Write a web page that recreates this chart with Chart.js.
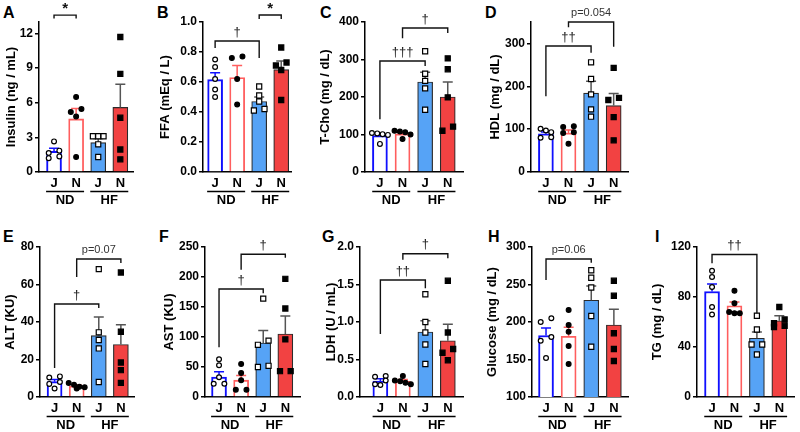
<!DOCTYPE html>
<html>
<head>
<meta charset="utf-8">
<script src="https://cdn.jsdelivr.net/npm/chart.js@4.4.0/dist/chart.umd.min.js"></script>
<style>
  body { margin: 0; background: #fff; width: 800px; height: 432px; position: relative; overflow: hidden; }
  canvas { position: absolute; }
  .letter { position: absolute; font: bold 16px "Liberation Sans", Arial, sans-serif; line-height: 16px; color: #000; }
</style>
</head>
<body>
<div class="letter" style="left:3px;top:5px">A</div>
<div class="letter" style="left:157px;top:5px">B</div>
<div class="letter" style="left:320px;top:5px">C</div>
<div class="letter" style="left:485px;top:5px">D</div>
<div class="letter" style="left:3px;top:229px">E</div>
<div class="letter" style="left:159px;top:229px">F</div>
<div class="letter" style="left:322px;top:229px">G</div>
<div class="letter" style="left:488px;top:229px">H</div>
<div class="letter" style="left:655px;top:229px">I</div>
<script>
const groups = ['J', 'N', 'J', 'N'];
const diets = ['ND', 'HF'];

// A insulin
const insulinTicks = [0, 3, 6, 9, 12];
const insulinMean = [1.8, 4.6, 2.55, 5.6];
const insulinSem = [0.25, 0.9, 0.35, 2.0];
const insulinPts = [[2.65, 1.85, 1.65, 1.2, 1.35], [6.5, 5.2, 5.45, 4.8, 1.3], [3.1, 3.1, 3.1, 2.4, 1.3], [11.7, 8.5, 4.7, 1.95, 1.1]];
const insulinSig = [[0, 1, 13.6, 13.3, 13.3, '*']];

// B FFA
const ffaTicks = [0, 0.2, 0.4, 0.6, 0.8, 1.0];
const ffaMean = [0.616, 0.63, 0.47, 0.683];
const ffaSem = [0.045, 0.08, 0.03, 0.057];
const ffaPts = [[0.75, 0.70, 0.62, 0.55, 0.50], [0.76, 0.77, 0.62, 0.45], [0.57, 0.51, 0.47, 0.41, 0.42], [0.83, 0.71, 0.73, 0.68, 0.48]];
const ffaSig = [[0, 2, 0.873, 0.827, 0.76, '†'], [2, 3, 1.047, 1.02, 1.02, '*']];

// C T-Cho
const tchoTicks = [0, 100, 200, 300, 400];
const tchoMean = [97, 101.5, 240, 200];
const tchoSem = [5, 4, 26, 40];
const tchoPts = [[103, 101, 99, 104, 75], [110, 108, 106, 100, 88], [322, 262, 243, 223, 166], [303, 274, 199, 121, 110]];
const tchoSig = [[0, 2, 296, 141, 283, '†††'], [1, 3, 384, 357, 371, '†']];

// D HDL
const hdlTicks = [0, 100, 200, 300];
const hdlMean = [89, 91, 184, 155];
const hdlSem = [4.2, 7, 28, 28];
const hdlPts = [[93, 97, 101, 80, 81], [107, 105, 91, 93, 66], [256, 217, 181, 146, 129], [243, 168, 173, 128, 74]];
const hdlSig = [[0, 2, 294, 177, 278, '††'], [1, 3, 350, 338, 292, 'p=0.054']];

// E ALT
const altTicks = [0, 20, 40, 60, 80];
const altMean = [8.2, 5.8, 32.7, 28];
const altSem = [1.2, 0.6, 10, 10.6];
const altPts = [[10.4, 11, 8, 7, 4.5], [7.5, 6.5, 5.5, 5.2, 4.5], [68.2, 34.5, 30.4, 25.9, 8.0], [66.4, 34.8, 18.4, 14.3, 7.5]];
const altSig = [[0, 2, 49.6, 15.5, 47.5, '†'], [1, 3, 73.6, 64, 71.5, 'p=0.07']];

// F AST
const astTicks = [0, 50, 100, 150, 200, 250];
const astMean = [33, 28, 90, 105];
const astSem = [9, 8, 20.7, 30];
const astPts = [[63, 53, 33, 22, 22], [55, 40, 28, 12, 12], [164, 94, 87, 50, 52], [197, 147.5, 96, 43, 43]];
const astSig = [[0, 2, 180, 83, 173, '†'], [1, 3, 238, 212, 232, '†']];

// G LDH
const ldhTicks = [0, 0.5, 1.0, 1.5, 2.0];
const ldhMean = [0.213, 0.21, 0.867, 0.75];
const ldhSem = [0.03, 0.025, 0.15, 0.22];
const ldhPts = [[0.28, 0.27, 0.22, 0.17, 0.16], [0.28, 0.22, 0.21, 0.19, 0.17], [1.37, 1.0, 0.86, 0.70, 0.44], [1.55, 0.86, 0.64, 0.59, 0.49]];
const ldhSig = [[0, 2, 1.56, 0.84, 1.45, '††'], [1, 3, 1.91, 1.83, 1.85, '†']];

// H glucose
const glucoseTicks = [100, 150, 200, 250, 300];
const glucoseMean = [182, 181, 229, 196];
const glucoseSem = [10, 12, 19, 21];
const glucosePts = [[205, 200, 180, 175, 152], [216, 196, 187, 168, 144], [269, 259, 246, 208, 167], [255, 235, 185, 164, 148]];
const glucoseSig = [[0, 2, 284, 256, 279, 'p=0.06']];

// I TG
const tgTicks = [0, 40, 80, 120];
const tgMean = [84.4, 73, 47, 61];
const tgSem = [6, 3, 5, 4];
const tgPts = [[101, 96, 88, 72, 66], [85, 75, 68, 67, 67], [65, 54, 42, 42, 34], [72, 62, 59, 57, 56]];
const tgSig = [[0, 2, 114, 107, 67, '††']];

Chart.defaults.font.family = '"Liberation Sans", Arial, sans-serif';
Chart.defaults.color = '#000';

const barFill = ['#ffffff', '#ffffff', '#56a3f6', '#f24242'];
const barLine = ['#1010ff', '#ff5e5e', '#2b2b2b', '#2b2b2b'];
const barLineW = [2, 1.8, 1.2, 1.2];
const errColor = ['#1010ff', '#ff5e5e', '#555555', '#555555'];
const ptStyle = ['circle', 'circle', 'rect', 'rect'];
const ptFill = ['#ffffff', '#000000', '#ffffff', '#000000'];
const ptRadius = [2.4, 2.4, 3.6, 3.6];

// spread points that sit at nearly the same level side by side
function swarm(vals, thr) {
  const idx = vals.map((v, i) => i).sort((a, b) => vals[b] - vals[a]);
  const out = [];
  let i = 0;
  while (i < idx.length) {
    let j = i + 1;
    while (j < idx.length && vals[idx[i]] - vals[idx[j]] < thr) j++;
    const k = j - i;
    for (let n = i; n < j; n++) {
      out[idx[n]] = k === 2 ? (n === i ? 1 : -1) : (n - i) - (k - 1) / 2;
    }
    i = j;
  }
  return out;
}

function makePanel(geo, d) {
  const rowTop = geo.row ? 216 : 0;
  const plotTop = geo.row ? 247 : 22;
  const plotBottom = geo.row ? 397 : 172;
  const canvas = document.createElement('canvas');
  canvas.width = geo.right - geo.left + 2;
  canvas.height = 216;
  canvas.style.left = geo.left + 'px';
  canvas.style.top = rowTop + 'px';
  document.body.appendChild(canvas);

  const pxX = (geo.right - geo.axis) / (geo.xMax - geo.xMin);
  const pxY = (plotBottom - plotTop) / (d.max - d.min);
  const pts = [];
  d.pts.forEach((vals, gi) => {
    const offs = swarm(vals, 4.5 / pxY);
    vals.forEach((v, k) => pts.push({ x: gi + offs[k] * 5.5 / pxX, y: v, g: gi }));
  });

  const deco = {
    id: 'deco',
    afterDatasetDraw(chart, args) {
      if (args.index !== 1) return;
      const ctx = chart.ctx, xs = chart.scales.x, ys = chart.scales.y;
      ctx.save();
      ctx.lineWidth = 1.5;
      d.mean.forEach((m, i) => {
        const px = xs.getPixelForValue(i);
        const top = ys.getPixelForValue(m + d.sem[i]);
        ctx.strokeStyle = errColor[i];
        ctx.beginPath();
        ctx.moveTo(px, ys.getPixelForValue(m));
        ctx.lineTo(px, top);
        ctx.moveTo(px - 5, top);
        ctx.lineTo(px + 5, top);
        ctx.stroke();
      });
      ctx.restore();
    },
    afterDraw(chart) {
      const ctx = chart.ctx, xs = chart.scales.x, ys = chart.scales.y;
      const bottom = chart.chartArea.bottom;
      ctx.save();
      // diet groups under the J / N labels
      ctx.strokeStyle = '#000';
      ctx.lineWidth = 1.3;
      ctx.fillStyle = '#000';
      ctx.font = 'bold 13px "Liberation Sans", Arial, sans-serif';
      ctx.textAlign = 'center';
      ctx.textBaseline = 'middle';
      diets.forEach((name, k) => {
        const cx = (xs.getPixelForValue(2 * k) + xs.getPixelForValue(2 * k + 1)) / 2;
        ctx.beginPath();
        ctx.moveTo(cx - 19, bottom + 19.5);
        ctx.lineTo(cx + 19, bottom + 19.5);
        ctx.stroke();
        ctx.fillText(name, cx, bottom + 28);
      });
      // significance brackets
      d.sig.forEach(([a, b, y, ya, yb, label]) => {
        const xa = xs.getPixelForValue(a), xb = xs.getPixelForValue(b);
        const py = ys.getPixelForValue(y);
        ctx.strokeStyle = '#111';
        ctx.lineWidth = 1.4;
        ctx.beginPath();
        ctx.moveTo(xa, ys.getPixelForValue(ya));
        ctx.lineTo(xa, py);
        ctx.lineTo(xb, py);
        ctx.lineTo(xb, ys.getPixelForValue(yb));
        ctx.stroke();
        if (label.startsWith('p')) {
          ctx.font = '11px "Liberation Sans", Arial, sans-serif';
          ctx.fillStyle = '#333';
        } else if (label === '*') {
          ctx.font = 'bold 15px "Liberation Sans", Arial, sans-serif';
          ctx.fillStyle = '#111';
        } else {
          ctx.font = '13px "Liberation Sans", Arial, sans-serif';
          ctx.fillStyle = '#222';
        }
        ctx.fillText(label, (xa + xb) / 2, py - (label === '*' ? 6 : 9));
      });
      ctx.restore();
    }
  };

  new Chart(canvas, {
    type: 'bar',
    data: {
      datasets: [
        {
          type: 'scatter',
          data: pts,
          pointStyle: pts.map(p => ptStyle[p.g]),
          pointBackgroundColor: pts.map(p => ptFill[p.g]),
          pointBorderColor: '#000',
          pointBorderWidth: 1.2,
          pointRadius: pts.map(p => ptRadius[p.g]),
          order: 0
        },
        {
          type: 'bar',
          data: d.mean.map((m, i) => ({ x: i, y: m })),
          backgroundColor: barFill,
          borderColor: barLine,
          borderWidth: barLineW,
          borderSkipped: 'start',
          barThickness: 15,
          order: 1
        }
      ]
    },
    options: {
      responsive: false,
      animation: false,
      devicePixelRatio: 1,
      layout: { padding: { top: plotTop - rowTop, right: 2, left: 0, bottom: 0 } },
      plugins: { legend: { display: false }, tooltip: { enabled: false } },
      scales: {
        x: {
          type: 'linear',
          min: geo.xMin,
          max: geo.xMax,
          offset: false,
          afterBuildTicks: s => { s.ticks = groups.map((g, i) => ({ value: i })); },
          afterFit: s => { s.height = rowTop + 216 - plotBottom; },
          ticks: {
            callback: v => groups[v],
            font: { weight: 'bold', size: 13 },
            color: '#000',
            padding: 4,
            autoSkip: false,
            maxRotation: 0
          },
          grid: { display: false, drawTicks: false },
          border: { color: '#000', width: 1.5 }
        },
        y: {
          min: d.min,
          max: d.max,
          afterBuildTicks: s => { s.ticks = d.ticks.map(v => ({ value: v })); },
          afterFit: s => { s.width = geo.axis - geo.left; },
          ticks: {
            callback: v => v.toFixed(d.dec),
            font: { weight: 'bold', size: 12 },
            color: '#000',
            padding: 2
          },
          grid: { drawOnChartArea: false, tickLength: 4, color: '#000', lineWidth: 1.5 },
          border: { color: '#000', width: 1.5 },
          title: { display: true, text: d.title, font: { weight: 'bold', size: 13 }, color: '#000', padding: 0 }
        }
      }
    },
    plugins: [deco]
  });
}

makePanel({ row: 0, left: 4, axis: 39, right: 137, xMin: -0.68, xMax: 3.61 },
  { title: 'Insulin (ng / mL)', min: 0, max: 13, dec: 0, ticks: insulinTicks, mean: insulinMean, sem: insulinSem, pts: insulinPts, sig: insulinSig });
makePanel({ row: 0, left: 158, axis: 203, right: 295, xMin: -0.55, xMax: 3.48 },
  { title: 'FFA (mEq / L)', min: 0, max: 1, dec: 1, ticks: ffaTicks, mean: ffaMean, sem: ffaSem, pts: ffaPts, sig: ffaSig });
makePanel({ row: 0, left: 318, axis: 365, right: 467, xMin: -0.66, xMax: 3.71 },
  { title: 'T-Cho (mg / dL)', min: 0, max: 400, dec: 0, ticks: tchoTicks, mean: tchoMean, sem: tchoSem, pts: tchoPts, sig: tchoSig });
makePanel({ row: 0, left: 488, axis: 531, right: 632, xMin: -0.66, xMax: 3.67 },
  { title: 'HDL (mg / dL)', min: 0, max: 350, dec: 0, ticks: hdlTicks, mean: hdlMean, sem: hdlSem, pts: hdlPts, sig: hdlSig });
makePanel({ row: 1, left: 3, axis: 40, right: 138, xMin: -0.66, xMax: 3.63 },
  { title: 'ALT (KU)', min: 0, max: 80, dec: 0, ticks: altTicks, mean: altMean, sem: altSem, pts: altPts, sig: altSig });
makePanel({ row: 1, left: 162, axis: 205, right: 304, xMin: -0.635, xMax: 3.70 },
  { title: 'AST (KU)', min: 0, max: 250, dec: 0, ticks: astTicks, mean: astMean, sem: astSem, pts: astPts, sig: astSig });
makePanel({ row: 1, left: 324, axis: 360, right: 467, xMin: -0.906, xMax: 3.71 },
  { title: 'LDH (U / mL)', min: 0, max: 2, dec: 1, ticks: ldhTicks, mean: ldhMean, sem: ldhSem, pts: ldhPts, sig: ldhSig });
makePanel({ row: 1, left: 485, axis: 532, right: 632, xMin: -0.62, xMax: 3.66 },
  { title: 'Glucose (mg / dL)', min: 100, max: 300, dec: 0, ticks: glucoseTicks, mean: glucoseMean, sem: glucoseSem, pts: glucosePts, sig: glucoseSig });
makePanel({ row: 1, left: 650, axis: 697, right: 798, xMin: -0.67, xMax: 3.69 },
  { title: 'TG (mg / dL)', min: 0, max: 120, dec: 0, ticks: tgTicks, mean: tgMean, sem: tgSem, pts: tgPts, sig: tgSig });
</script>
</body>
</html>
